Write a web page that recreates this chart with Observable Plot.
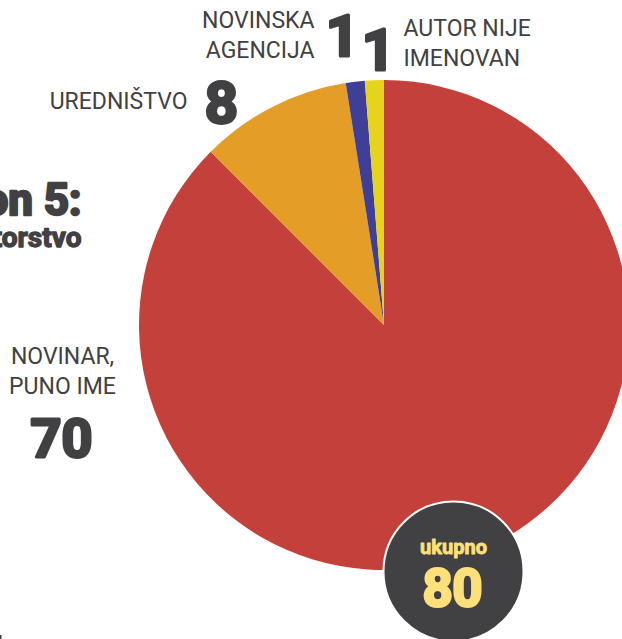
<!DOCTYPE html>
<html><head><meta charset="utf-8">
<script src="https://cdn.jsdelivr.net/npm/d3@7"></script>
<script src="https://cdn.jsdelivr.net/npm/@observablehq/plot@0.6"></script>
<style>html,body{margin:0;padding:0;background:#fff;overflow:hidden}svg{display:block}</style>
</head><body><div id="chart"></div>
<script>
// ---- data ----
const categories = ["NOVINAR, PUNO IME", "UREDNIŠTVO", "NOVINSKA AGENCIJA", "AUTOR NIJE IMENOVAN"];
const labelLines = ["NOVINAR,\nPUNO IME", "UREDNIŠTVO", "NOVINSKA\nAGENCIJA", "AUTOR NIJE\nIMENOVAN"];
const values = [70, 8, 1, 1];
const colors = ["#c4403b", "#e49e27", "#403f98", "#e5d41b"];
const totalLabel = "ukupno";
const titleText = "Grafikon 5:";
const subtitleText = "Autorstvo";

// ---- layout ----
const W = 622, H = 639;
const center = [384, 325];
const radius = 245;
const ink = "#414042";
const gold = "#fde07a";
const labelFont = "Roboto";
const numFont = "Roboto";

const data = categories.map((c, i) => ({category: c, value: values[i], lines: labelLines[i]}));
const total = d3.sum(values);
const arcs = d3.pie().sort(null).value(d => d.value)(data);
const color = Plot.scale({color: {type: "ordinal", domain: categories, range: colors}});

const labelPos = {
  "NOVINAR, PUNO IME": {lx: 62, ly: 393, la: "middle", nx: 61, ny: 456, ns: 54},
  "UREDNIŠTVO": {lx: 187, ly: 108, la: "end", nx: 221, ny: 122, ns: 58},
  "NOVINSKA AGENCIJA": {lx: 314, ly: 57, la: "end", nx: 342, ny: 55, ns: 58},
  "AUTOR NIJE IMENOVAN": {lx: 403, ly: 65, la: "start", nx: 378, ny: 69, ns: 58}
};
const labels = data.map(d => ({...d, ...labelPos[d.category]}));

function pieMark(index, scales) {
  const cx = scales.x(center[0]), cy = scales.y(center[1]);
  const r = scales.x(center[0] + radius) - cx;
  const arc = d3.arc().innerRadius(0).outerRadius(r);
  const g = d3.create("svg:g").attr("transform", `translate(${cx},${cy})`);
  g.selectAll("path").data(arcs).join("path")
    .attr("d", arc)
    .attr("fill", d => color.apply(d.data.category));
  return g.node();
}

const labelStyle = {x: "lx", y: "ly", text: "lines", fill: ink, fontSize: 23, fontWeight: 400, fontFamily: labelFont, lineAnchor: "bottom", lineHeight: 1.27};
const heavy = (fill, sw) => ({fill, stroke: fill, strokeWidth: sw, strokeLinejoin: "round", fontWeight: 700, fontFamily: numFont, lineAnchor: "bottom"});

const chart = Plot.plot({
  width: W, height: H,
  margin: 0,
  x: {domain: [0, W], range: [0, W], axis: null},
  y: {domain: [0, H], range: [0, H], axis: null},
  style: {background: "#fff", overflow: "hidden"},
  marks: [
    pieMark,
    Plot.dot([{x: 453, y: 571}], {x: "x", y: "y", r: 70, fill: ink, stroke: "#fff", strokeWidth: 2}),
    Plot.text([totalLabel], {x: () => 453, y: () => 553, text: d => d, fontSize: 20, ...heavy(gold, 0.8)}),
    Plot.text([total], {x: () => 452, y: () => 605, text: d => String(d), fontSize: 52, ...heavy(gold, 3)}),
    ...["start", "middle", "end"].map(a => Plot.text(labels.filter(d => d.la === a), {...labelStyle, textAnchor: a})),
    Plot.text(labels, {x: "nx", y: "ny", text: d => String(d.value), fontSize: "ns", textAnchor: "middle", ...heavy(ink, 3)}),
    Plot.text([titleText], {x: () => 81, y: () => 214, text: d => d, textAnchor: "end", fontSize: 44, ...heavy(ink, 2.5)}),
    Plot.text([subtitleText], {x: () => 81, y: () => 246, text: d => d, textAnchor: "end", fontSize: 28, ...heavy(ink, 1.3)}),
    Plot.text(["l"], {x: () => -4, y: () => 652, text: d => d, textAnchor: "start", fontSize: 24, ...heavy(ink, 0)})
  ]
});
document.getElementById("chart").appendChild(chart);
</script>
</body></html>
